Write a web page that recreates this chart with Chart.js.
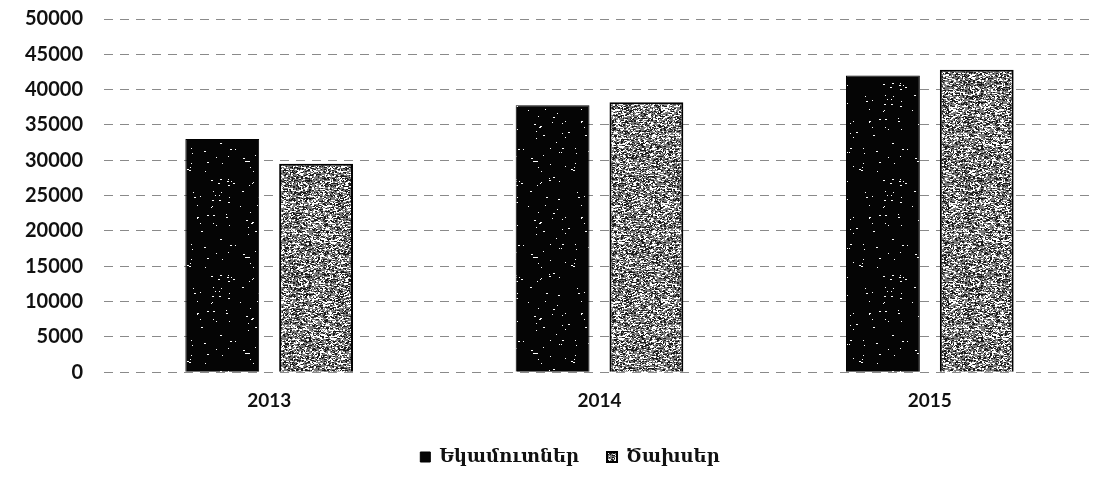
<html>
	<head>
		<script src="https://cdn.jsdelivr.net/npm/chart.js@4/dist/chart.umd.min.js"></script>
		<style>
			body { margin: 0; background: #fff; }
			#container { width: 1114px; height: 486px; }
		</style>
	</head>
	<body>
		<div id="container">
			<canvas id="myChart" width="1114" height="486"></canvas>
		</div>
		<script>
			var years = ["2013", "2014", "2015"];
			var seriesNames = ["Եկամուտներ", "Ծախսեր"];
			var income = [33000, 37800, 42000];
			var expenses = [29500, 38200, 42800];

			// speckled fill like the scanned picture
			function makeGrain(base, seed, count, light, dark) {
				var c = document.createElement("canvas");
				c.width = 96; c.height = 96;
				var g = c.getContext("2d");
				g.fillStyle = base;
				g.fillRect(0, 0, 96, 96);
				var s = seed >>> 0;
				function rnd() {
					s = (s + 0x6D2B79F5) >>> 0;
					var t = s;
					t = Math.imul(t ^ (t >>> 15), t | 1);
					t ^= t + Math.imul(t ^ (t >>> 7), t | 61);
					return ((t ^ (t >>> 14)) >>> 0) / 4294967296;
				}
				for (var i = 0; i < count; i++) {
					var x = Math.floor(rnd() * 96);
					var y = Math.floor(rnd() * 96);
					g.fillStyle = rnd() < light ? "#ffffff" : dark;
					g.fillRect(x, y, 1 + Math.floor(rnd() * 2), 1);
				}
				return g.createPattern(c, "repeat");
			}

			// legend sits a bit right of the page centre in the original
			var legendShift = {
				id: "legendShift",
				afterLayout: function (chart) {
					chart.legend.left += 11;
					chart.legend.right += 11;
				}
			};

			var ctx = document.getElementById("myChart").getContext("2d");
			var greyGrain = makeGrain("#7a7a7a", 11, 5200, 0.5, "#1a1a1a");
			var darkGrain = makeGrain("#050505", 29, 90, 1, "#000");

			var myChart = new Chart(ctx, {
				type: "bar",
				data: {
					labels: years,
					datasets: [{
						label: seriesNames[0],
						data: income,
						backgroundColor: darkGrain,
						borderColor: "#000",
						borderWidth: 1
					}, {
						label: seriesNames[1],
						data: expenses,
						backgroundColor: greyGrain,
						borderColor: "#000",
						borderWidth: 2
					}]
				},
				plugins: [legendShift],
				options: {
					responsive: false,
					animation: false,
					categoryPercentage: 0.568,
					barPercentage: 0.787,
					layout: { padding: { left: 23, right: 19, top: 19, bottom: 10 } },
					scales: {
						x: {
							grid: { display: false, drawTicks: false },
							border: { display: false },
							ticks: { color: "#111", padding: 17, font: { family: "Lato", size: 19, weight: "bold" } },
							afterFit: function (scale) { scale.height -= 9; }
						},
						y: {
							min: 0,
							max: 50000,
							ticks: {
								stepSize: 5000,
								color: "#111",
								padding: 2,
								font: { family: "Lato", size: 20, weight: "bold" },
								callback: function (v) { return String(v); }
							},
							grid: { color: "#8a8a8a", lineWidth: 1, drawTicks: true, tickLength: 19, tickColor: "rgba(0,0,0,0)" },
							border: { display: false, dash: [9, 7] }
						}
					},
					plugins: {
						legend: {
							position: "bottom",
							labels: {
								color: "#111",
								boxWidth: 10,
								boxHeight: 10,
								padding: 28,
								font: { family: "DejaVu Serif", size: 18, weight: "bold" }
							}
						},
						tooltip: { enabled: false }
					}
				}
			});
		</script>
	</body>
</html>
